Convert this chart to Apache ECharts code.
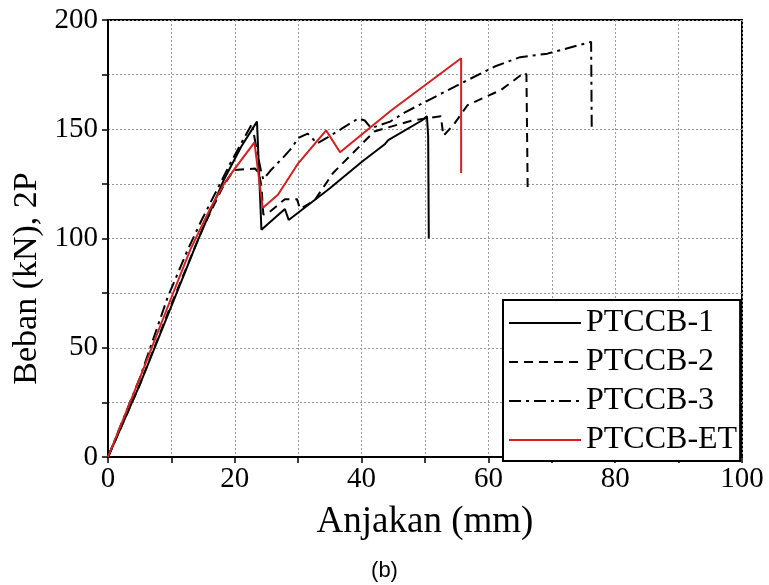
<!DOCTYPE html>
<html>
<head>
<meta charset="utf-8">
<script src="https://cdn.jsdelivr.net/npm/echarts@6/dist/echarts.min.js"></script>
<style>
  html, body { margin: 0; padding: 0; background: #fff; }
  #chart { width: 769px; height: 585px; }
</style>
</head>
<body>
<div id="chart"></div>
<script>
    // 数据 (x: Anjakan mm, y: Beban kN)
    var seriesNames = ['PTCCB-1', 'PTCCB-2', 'PTCCB-3', 'PTCCB-ET'];
    var ptccb1 = [[0,0],[5,33],[10,69],[14,98],[18.3,127],[21,142],[23.5,153.5],[24.2,104],[27.9,113.5],[28.5,108.5],
        [35,123],[40,135],[43.6,143],[44.2,145],[49.5,154],[50.3,156],[50.5,147],[50.6,100]];
    var ptccb2 = [[0,0],[5,33],[10,70],[15,105],[18,123],[19.8,131.3],[23.2,132],[23.8,130],[24.2,124],[24.5,111],
        [25.2,111.5],[27.9,118],[29.8,118],[30.3,113.5],[32.6,117.5],[35.5,130],[42,149],[48,154],[52.5,156],[52.9,147],
        [54.5,152],[56.7,161],[62,168],[65.7,176],[66,175],[66.2,121]];
    var ptccb3 = [[0,0],[5,36],[9.4,73],[12.6,95],[14.7,108],[19.4,135],[22.7,152.5],[23.5,140],[24.2,130],[24.5,127],
        [25.6,131],[27.6,137],[29,141.5],[30,146],[31.5,148],[33,143.5],[34.5,146],[37,150.5],[39.5,155],[40.5,154],
        [41.5,150.5],[44.5,153.5],[47,158],[55.7,171],[61,178.7],[65,183],[69.3,184.6],[76.2,190],[76.3,150]];
    var ptccbET = [[0,0],[5,36],[10,73],[13,95],[16,113],[18.3,125],[20,132],[23.1,144],[24.4,114],[26.8,120],
        [29.9,134],[34.4,149.5],[36.6,139.5],[44.6,158.5],[55.7,182.5],[55.7,130]];
    var xTicks = [0, 20, 40, 60, 80, 100];
    var yTicks = [0, 50, 100, 150, 200];

    var serif = '"Liberation Serif", "Times New Roman", serif';
    var chart = echarts.init(document.getElementById('chart'));

    function makeLine(name, data, color, type) {
        return {
            name: name,
            type: 'line',
            data: data,
            symbol: 'none',
            animation: false,
            lineStyle: { color: color, width: 2, type: type },
            itemStyle: { color: color }
        };
    }

    var gridLine = { show: true, lineStyle: { color: '#999', width: 1, type: [2, 2] } };

    var option = {
        backgroundColor: '#fff',
        grid: {
            left: 108, right: 27, top: 20, bottom: 128,
            show: true, borderColor: '#000', borderWidth: 2
        },
        legend: {
            orient: 'vertical',
            left: 503, top: 300,
            data: seriesNames,
            backgroundColor: '#fff',
            borderColor: '#000',
            borderWidth: 2,
            borderRadius: 0,
            padding: [7, 3, 5, 5],
            itemGap: 7,
            itemWidth: 72,
            itemHeight: 20,
            itemStyle: { opacity: 0 },
            textStyle: { fontFamily: serif, fontSize: 32, color: '#000', lineHeight: 30 }
        },
        xAxis: {
            type: 'value',
            min: xTicks[0], max: xTicks[xTicks.length - 1], interval: 20,
            name: 'Anjakan (mm)',
            nameLocation: 'middle',
            nameGap: 47,
            nameTextStyle: { fontFamily: serif, fontSize: 37, color: '#000' },
            axisLine: { lineStyle: { color: '#000', width: 2 } },
            axisTick: { show: true, inside: false, length: 6, lineStyle: { color: '#000', width: 1.5 } },
            minorTick: { show: true, splitNumber: 2, length: 6, lineStyle: { color: '#000', width: 1.5 } },
            axisLabel: { fontFamily: serif, fontSize: 29, color: '#000', margin: 8 },
            splitLine: gridLine,
            minorSplitLine: gridLine
        },
        yAxis: {
            type: 'value',
            min: yTicks[0], max: yTicks[yTicks.length - 1], interval: 50,
            name: 'Beban (kN), 2P',
            nameLocation: 'middle',
            nameGap: 63,
            nameTextStyle: { fontFamily: serif, fontSize: 34, color: '#000', padding: [0, 80, 0, 0] },
            axisLine: { show: true, lineStyle: { color: '#000', width: 2 } },
            axisTick: { show: true, inside: false, length: 6, lineStyle: { color: '#000', width: 1.5 } },
            minorTick: { show: true, splitNumber: 2, length: 6, lineStyle: { color: '#000', width: 1.5 } },
            axisLabel: { fontFamily: serif, fontSize: 29, color: '#000', margin: 10 },
            splitLine: gridLine,
            minorSplitLine: gridLine
        },
        graphic: [{
            type: 'text',
            left: 'center',
            top: 560,
            style: { text: '(b)', font: '22px "Liberation Sans", Arial, sans-serif', fill: '#000' }
        }],
        series: [
            makeLine(seriesNames[0], ptccb1, '#000', 'solid'),
            makeLine(seriesNames[1], ptccb2, '#000', [9, 6]),
            makeLine(seriesNames[2], ptccb3, '#000', [12, 5, 3, 5]),
            makeLine(seriesNames[3], ptccbET, '#d81e1e', 'solid')
        ]
    };
    chart.setOption(option);
</script>
</body>
</html>
